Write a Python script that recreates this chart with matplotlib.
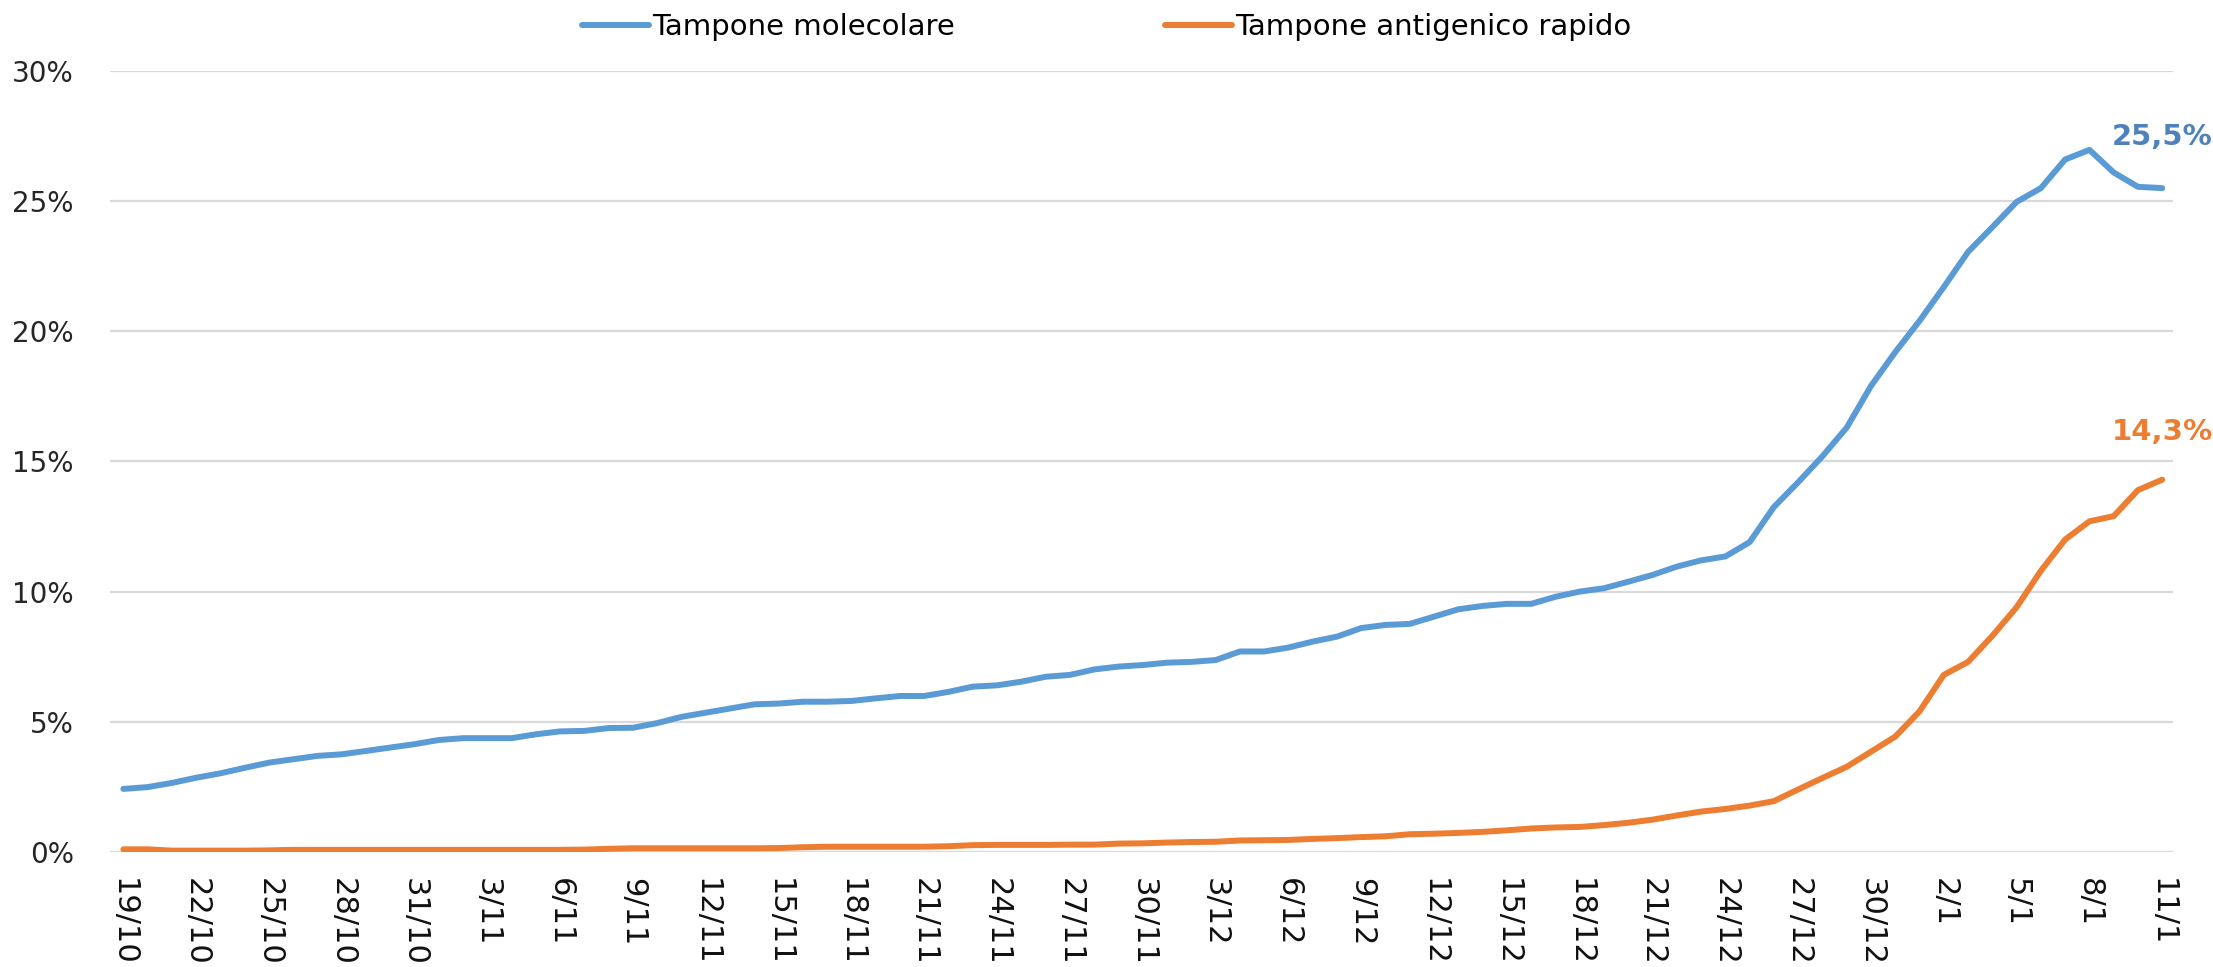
# Quota di tamponi positivi per tipo di test (19/10 - 11/1)

import matplotlib
matplotlib.use("Agg")
import matplotlib.pyplot as plt
from matplotlib.ticker import FuncFormatter
import pandas as pd

# daily dates, labels like 19/10
dates = pd.date_range("2021-10-19", "2022-01-11", freq="D")
date_labels = [f"{d.day}/{d.month}" for d in dates]

# values in percent
molecolare = [
    2.42, 2.49, 2.65, 2.85, 3.02, 3.23, 3.43, 3.56, 3.69, 3.75,
    3.88, 4.01, 4.14, 4.30, 4.37, 4.37, 4.37, 4.52, 4.63, 4.65,
    4.76, 4.77, 4.95, 5.19, 5.35, 5.51, 5.67, 5.70, 5.77, 5.77,
    5.80, 5.90, 5.99, 5.99, 6.15, 6.35, 6.40, 6.54, 6.73, 6.80,
    7.01, 7.12, 7.18, 7.27, 7.30, 7.37, 7.70, 7.70, 7.85, 8.08,
    8.27, 8.60, 8.72, 8.76, 9.04, 9.32, 9.45, 9.53, 9.53, 9.80,
    10.00, 10.13, 10.38, 10.64, 10.96, 11.20, 11.35, 11.90, 13.25, 14.20,
    15.20, 16.30, 17.90, 19.20, 20.40, 21.70, 23.05, 24.00, 24.97, 25.50,
    26.60, 26.97, 26.10, 25.55, 25.50,
]
antigenico = [
    0.10, 0.10, 0.05, 0.05, 0.05, 0.05, 0.06, 0.08, 0.08, 0.08,
    0.08, 0.08, 0.08, 0.08, 0.08, 0.08, 0.08, 0.08, 0.08, 0.09,
    0.12, 0.14, 0.14, 0.14, 0.14, 0.14, 0.14, 0.15, 0.18, 0.20,
    0.20, 0.20, 0.20, 0.20, 0.22, 0.26, 0.27, 0.27, 0.27, 0.28,
    0.28, 0.32, 0.33, 0.36, 0.38, 0.39, 0.44, 0.45, 0.46, 0.50,
    0.53, 0.57, 0.60, 0.68, 0.70, 0.73, 0.77, 0.83, 0.90, 0.94,
    0.96, 1.03, 1.12, 1.24, 1.40, 1.55, 1.65, 1.78, 1.95, 2.40,
    2.84, 3.27, 3.85, 4.43, 5.40, 6.80, 7.30, 8.30, 9.40, 10.80,
    12.00, 12.70, 12.90, 13.90, 14.30,
]
series_names = ["Tampone molecolare", "Tampone antigenico rapido"]
last_labels = ["25,5%", "14,3%"]

BLUE = "#5B9BD5"
ORANGE = "#ED7D31"

plt.rcParams["font.family"] = ["DejaVu Sans"]

fig = plt.figure(figsize=(22.13, 9.67), dpi=100)
ax = fig.add_axes([0.0497, 0.119, 0.9323, 0.8076])

x = list(range(len(dates)))
ax.plot(x, molecolare, color=BLUE, lw=4.3, solid_joinstyle="round",
        solid_capstyle="round", label=series_names[0], zorder=3)
ax.plot(x, antigenico, color=ORANGE, lw=4.3, solid_joinstyle="round",
        solid_capstyle="round", label=series_names[1], zorder=3)

ax.set_ylim(0, 30)
ax.set_xlim(-0.55, len(dates) - 0.55)
ax.set_yticks(range(0, 31, 5))
ax.yaxis.set_major_formatter(FuncFormatter(lambda v, p: f"{v:.0f}%"))
ax.grid(axis="y", color="#D9D9D9", lw=1.6)
ax.set_axisbelow(True)
for s in ax.spines.values():
    s.set_visible(False)

ax.set_xticks(x[::3])
ax.set_xticklabels(date_labels[::3], rotation=-90, fontsize=22,
                   va="top", ha="center", color="#111111")
ax.tick_params(axis="x", length=0, pad=19)
ax.tick_params(axis="y", length=0, pad=26, labelsize=20, labelcolor="#262626")

# end-of-series labels
ax.annotate(last_labels[0], (x[-1], molecolare[-1]), xytext=(0, 37),
            textcoords="offset points", ha="center", va="center",
            fontsize=21, fontweight="bold", color="#4F81BD")
ax.annotate(last_labels[1], (x[-1], antigenico[-1]), xytext=(0, 34),
            textcoords="offset points", ha="center", va="center",
            fontsize=21, fontweight="bold", color=ORANGE)

fig.legend(loc="center", bbox_to_anchor=(0.5, 0.972), ncol=2, frameon=False,
           fontsize=21, handlelength=2.3, handletextpad=0.1,
           columnspacing=7.2)

fig.savefig("out.png", dpi=100)
